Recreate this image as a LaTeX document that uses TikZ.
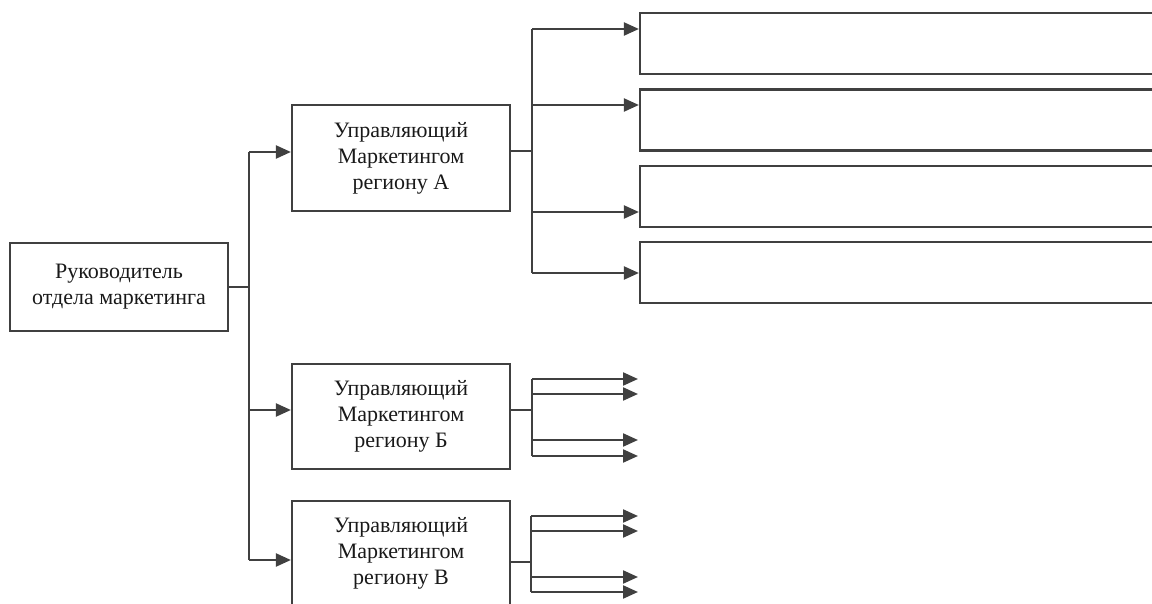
\documentclass[tikz,border=0pt]{standalone}
\usepackage{fontspec}
\setmainfont{Liberation Serif}
\usetikzlibrary{arrows.meta}
\definecolor{linegray}{HTML}{404040}

\begin{document}
\begin{tikzpicture}[x=1pt, y=-1pt,
	conn/.style={draw=linegray, line width=2.2pt},
	arr/.style={conn, -{Triangle[length=15pt,width=13pt]}},
	box/.style={draw=linegray, line width=2.2pt, rectangle, inner sep=0pt, align=center,
		text=black!90, font=\fontsize{22}{26}\selectfont},
	regbox/.style={box, minimum width=218pt, minimum height=105pt},
	subbox/.style={box, minimum width=525pt, minimum height=61pt}]
	\useasboundingbox (0,0) rectangle (1152,604);
	\clip (0,0) rectangle (1152,604);

	\node[box, minimum width=218pt, minimum height=88pt] (head) at (119,287) {Руководитель\\отдела маркетинга};
	\node[regbox, minimum height=106pt] (regA) at (401,158) {Управляющий\\Маркетингом\\региону А};
	\node[regbox] (regB) at (401,416.5) {Управляющий\\Маркетингом\\региону Б};
	\node[regbox, minimum height=104pt] (regC) at (401,553) {Управляющий\\Маркетингом\\региону В};

	\node[subbox] (sub1) at (902.5,43.5) {};
	\node[subbox] (sub2) at (902.5,120) {};
	\node[subbox] (sub3) at (902.5,196.5) {};
	\node[subbox] (sub4) at (902.5,272.5) {};

	% trunk from the head
	\coordinate (t1) at (249,152);
	\coordinate (t2) at (249,410);
	\coordinate (t3) at (249,560);
	\draw[conn] (head.east) -- (head.east -| t1);
	\draw[conn] (t1) -- (t3);
	\draw[arr] (t1) -- (t1 -| regA.west);
	\draw[arr] (t2) -- (t2 -| regB.west);
	\draw[arr] (t3) -- (t3 -| regC.west);

	% region A
	\coordinate (busA) at (532,151);
	\coordinate (a1) at (532,29);
	\coordinate (a2) at (532,105);
	\coordinate (a3) at (532,212);
	\coordinate (a4) at (532,273);
	\draw[conn] (busA -| regA.east) -- (busA);
	\draw[conn] (a1) -- (a4);
	\draw[arr] (a1) -- (a1 -| sub1.west);
	\draw[arr] (a2) -- (a2 -| sub2.west);
	\draw[arr] (a3) -- (a3 -| sub3.west);
	\draw[arr] (a4) -- (a4 -| sub4.west);

	\coordinate (tip) at (638,0);

	% region B
	\coordinate (busB) at (532,410);
	\coordinate (b1) at (532,379);
	\coordinate (b2) at (532,394);
	\coordinate (b3) at (532,440);
	\coordinate (b4) at (532,456);
	\draw[conn] (busB -| regB.east) -- (busB);
	\draw[conn] (b1) -- (b4);
	\draw[arr] (b1) -- (b1 -| tip);
	\draw[arr] (b2) -- (b2 -| tip);
	\draw[arr] (b3) -- (b3 -| tip);
	\draw[arr] (b4) -- (b4 -| tip);

	% region C
	\coordinate (busC) at (531,562);
	\coordinate (c1) at (531,516);
	\coordinate (c2) at (531,531);
	\coordinate (c3) at (531,577);
	\coordinate (c4) at (531,592);
	\draw[conn] (busC -| regC.east) -- (busC);
	\draw[conn] (c1) -- (c4);
	\draw[arr] (c1) -- (c1 -| tip);
	\draw[arr] (c2) -- (c2 -| tip);
	\draw[arr] (c3) -- (c3 -| tip);
	\draw[arr] (c4) -- (c4 -| tip);
\end{tikzpicture}
\end{document}
